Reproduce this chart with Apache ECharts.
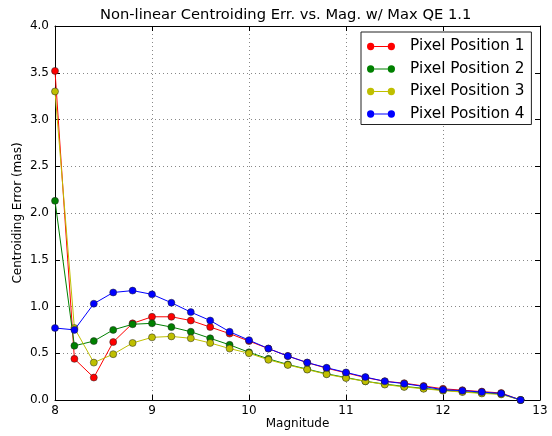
<!DOCTYPE html>
<html>
<head>
<meta charset="utf-8">
<script src="https://cdn.jsdelivr.net/npm/echarts@6/dist/echarts.min.js"></script>
<style>
  html, body { margin: 0; padding: 0; background: #fff; }
  #chart { width: 552px; height: 436px; }
</style>
</head>
<body>
<div id="chart"></div>
<script>
// Magnitudes sampled every 0.2 mag
const magnitudes = [8.0, 8.2, 8.4, 8.6, 8.8, 9.0, 9.2, 9.4, 9.6, 9.8, 10.0, 10.2, 10.4,
                    10.6, 10.8, 11.0, 11.2, 11.4, 11.6, 11.8, 12.0, 12.2, 12.4, 12.6, 12.8];

// Centroiding error (mas) for each pixel position
const pixelPos1 = [3.52, 0.44, 0.24, 0.62, 0.82, 0.89, 0.89, 0.85, 0.78, 0.71, 0.63, 0.55, 0.47,
                   0.40, 0.34, 0.29, 0.24, 0.20, 0.18, 0.15, 0.12, 0.105, 0.09, 0.075, 0.0];
const pixelPos2 = [2.13, 0.58, 0.63, 0.75, 0.81, 0.82, 0.78, 0.73, 0.66, 0.59, 0.51, 0.44, 0.38,
                   0.33, 0.28, 0.24, 0.20, 0.17, 0.145, 0.125, 0.105, 0.09, 0.075, 0.065, 0.0];
const pixelPos3 = [3.30, 0.77, 0.40, 0.49, 0.61, 0.67, 0.68, 0.66, 0.61, 0.55, 0.50, 0.43, 0.375,
                   0.325, 0.275, 0.235, 0.20, 0.165, 0.14, 0.12, 0.10, 0.085, 0.07, 0.06, 0.0];
const pixelPos4 = [0.77, 0.75, 1.03, 1.15, 1.17, 1.13, 1.04, 0.94, 0.85, 0.73, 0.64, 0.55, 0.47,
                   0.40, 0.345, 0.295, 0.245, 0.20, 0.175, 0.145, 0.11, 0.10, 0.085, 0.07, 0.0];

const seriesNames = ['Pixel Position 1', 'Pixel Position 2', 'Pixel Position 3', 'Pixel Position 4'];
const seriesValues = [pixelPos1, pixelPos2, pixelPos3, pixelPos4];
const seriesColors = ['#ff0000', '#008000', '#bfbf00', '#0000ff'];

const FONT = 'DejaVu Sans';

// Legend key: a short line joining two round markers
const LEGEND_ICON = 'path://M0.5,4a3.5,3.5 0 1,0 7,0a3.5,3.5 0 1,0 -7,0Z' +
                    'M20.5,4a3.5,3.5 0 1,0 7,0a3.5,3.5 0 1,0 -7,0Z' +
                    'M7.5,3.6L20.5,3.6L20.5,4.4L7.5,4.4Z';

const chart = echarts.init(document.getElementById('chart'), null, { renderer: 'canvas' });

const gridLine = { show: true, lineStyle: { color: '#888', type: [1, 3], width: 1 } };
const inTicks = { show: true, inside: true, length: 5, lineStyle: { color: '#000' } };
const frameLine = { show: true, onZero: false, lineStyle: { color: '#000', width: 1 } };

chart.setOption({
  animation: false,
  backgroundColor: '#fff',
  title: {
    text: 'Non-linear Centroiding Err. vs. Mag. w/ Max QE 1.1',
    left: 95, top: 3,
    textStyle: { fontFamily: FONT, fontSize: 14.7, fontWeight: 'normal', color: '#000' }
  },
  grid: { left: 55, right: 12, top: 26, bottom: 36, containLabel: false, outerBoundsMode: 'none' },
  legend: {
    orient: 'vertical', left: 361, top: 32,
    backgroundColor: '#fff', borderColor: '#222', borderWidth: 1, borderRadius: 0,
    padding: [7, 7, 3, 6],
    itemWidth: 28, itemHeight: 8, itemGap: 7.5,
    icon: LEGEND_ICON,
    itemStyle: { borderWidth: 0 },
    textStyle: { fontFamily: FONT, fontSize: 15.3, color: '#000',
                 padding: [0, 0, 0, 10] },
    data: seriesNames
  },
  xAxis: [{
    type: 'value', min: 8, max: 13, interval: 1,
    name: 'Magnitude', nameLocation: 'middle', nameGap: 18, nameMoveOverlap: false,
    nameTextStyle: { fontFamily: FONT, fontSize: 12, color: '#000', verticalAlign: 'top' },
    axisLine: frameLine, axisTick: inTicks, splitLine: gridLine,
    axisLabel: { fontFamily: FONT, fontSize: 12, color: '#000', margin: 5 }
  }, {
    type: 'value', min: 8, max: 13, interval: 1, position: 'top',
    axisLine: frameLine, axisTick: inTicks, splitLine: { show: false },
    axisLabel: { show: false }
  }],
  yAxis: [{
    type: 'value', min: 0, max: 4, interval: 0.5,
    name: 'Centroiding Error (mas)', nameLocation: 'middle', nameGap: 31, nameMoveOverlap: false,
    nameTextStyle: { fontFamily: FONT, fontSize: 12, color: '#000' },
    axisLine: frameLine, axisTick: inTicks, splitLine: gridLine,
    axisLabel: { fontFamily: FONT, fontSize: 12, color: '#000', margin: 6,
                 formatter: v => v.toFixed(1) }
  }, {
    type: 'value', min: 0, max: 4, interval: 0.5, position: 'right',
    axisLine: frameLine, axisTick: inTicks, splitLine: { show: false },
    axisLabel: { show: false }
  }],
  series: seriesNames.map((name, i) => ({
    name: name,
    type: 'line',
    data: magnitudes.map((m, j) => [m, seriesValues[i][j]]),
    symbol: 'circle', symbolSize: 7,
    lineStyle: { color: seriesColors[i], width: 1 },
    itemStyle: { color: seriesColors[i], borderColor: '#222', borderWidth: 0.5 },
    z: 2 + i
  }))
});
</script>
</body>
</html>
